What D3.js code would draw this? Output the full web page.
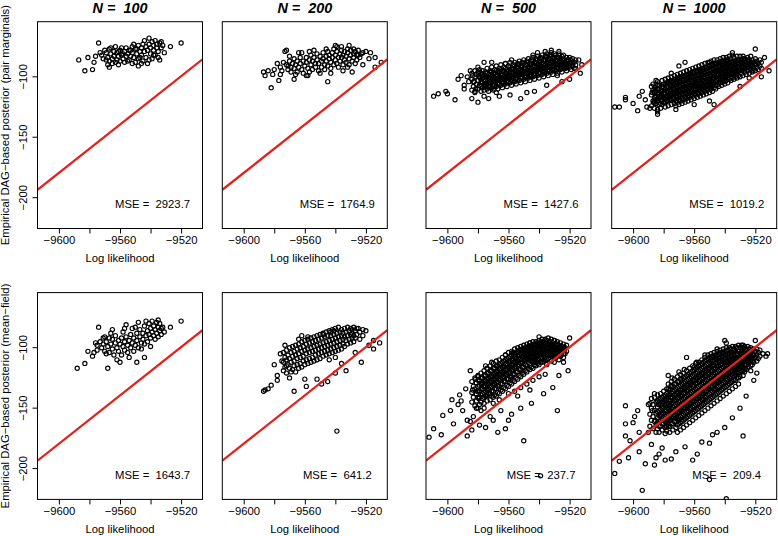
<!DOCTYPE html>
<html>
<head>
<meta charset="utf-8">
<script src="https://cdn.jsdelivr.net/npm/d3@7"></script>
<style>
  body { margin: 0; background: #fff; }
  text { font-family: "Liberation Sans", Arial, Helvetica, sans-serif; fill: #000; }
</style>
</head>
<body>
<div id="chart"></div>
<script>
// ---- data ----
const sampleSizes = [100, 200, 500, 1000];
const pairMse = [2923.7, 1764.9, 1427.6, 1019.2];
const meanFieldMse = [1643.7, 641.2, 237.7, 209.4];
const xTicks = [-9600, -9580, -9560, -9540, -9520];
const xTickLabels = [-9600, -9560, -9520];
const yTicks = [-100, -150, -200];
const rowTitles = ["Empirical DAG\u2212based posterior (pair marginals)",
                   "Empirical DAG\u2212based posterior (mean\u2212field)"];
const refOffset = 9420.5;   // red reference line: y = loglik + refOffset

// top row: pair marginals
const pairN100 = [
[-9587,-86],[-9583,-95],[-9581,-84],[-9578,-94],[-9577,-88],[-9576,-83],[-9574,-72],[-9572,-82],[-9571,-85],[-9570,-78],[-9569,-80],[-9568,-84],[-9568,-90],[-9567,-87],[-9566,-81],[-9566,-76],[-9565,-85],[-9564,-79],[-9564,-83],[-9563,-75],[-9563,-88],[-9562,-80],[-9562,-86],[-9561,-83],[-9560,-78],[-9560,-87],[-9559,-82],[-9559,-76],[-9558,-85],[-9557,-79],[-9557,-88],[-9556,-83],[-9556,-76],[-9555,-81],[-9554,-78],[-9554,-86],[-9553,-83],[-9552,-75],[-9552,-80],[-9551,-84],[-9550,-77],[-9550,-88],[-9549,-81],[-9548,-91],[-9548,-74],[-9548,-85],[-9547,-79],[-9546,-82],[-9546,-76],[-9545,-87],[-9545,-73],[-9544,-79],[-9543,-84],[-9543,-75],[-9542,-78],[-9542,-89],[-9541,-68],[-9541,-73],[-9540,-81],[-9540,-76],[-9539,-71],[-9539,-85],[-9538,-78],[-9538,-74],[-9537,-70],[-9537,-82],[-9536,-76],[-9536,-73],[-9535,-79],[-9534,-86],[-9534,-72],[-9533,-76],[-9532,-74],[-9531,-80],[-9527,-75],[-9520,-72],
[-9573,-80],[-9569,-86],[-9567,-77],[-9565,-89],[-9561,-79],[-9558,-81],[-9555,-87],[-9553,-78],[-9551,-73],[-9549,-77],[-9547,-84],[-9544,-70],[-9541,-86],[-9538,-82],[-9535,-84],[-9533,-71],[-9567,-92],[-9561,-90],[-9552,-89],[-9546,-89]
];
const pairN200 = [
[-9587,-96],[-9586,-99],[-9584,-95],[-9582,-109],[-9580,-94],[-9577,-103],[-9576,-98],[-9574,-88],[-9573,-79],[-9572,-78],[-9571,-91],[-9567,-102],[-9564,-80],[-9559,-99],[-9557,-79],[-9545,-104],[-9540,-74],[-9536,-75],[-9528,-77],[-9522,-80],[-9520,-79],[-9514,-84],[-9510,-88],[-9514,-92],[-9522,-90],[-9529,-96],[-9525,-82],[-9518,-85],[-9517,-80],[-9531,-74],
[-9572,-90],[-9571,-94],[-9570,-87],[-9569,-92],[-9569,-96],[-9568,-89],[-9567,-85],[-9567,-93],[-9566,-90],[-9565,-96],[-9565,-87],[-9564,-92],[-9563,-84],[-9563,-89],[-9562,-94],[-9561,-87],[-9561,-97],[-9560,-91],[-9559,-84],[-9559,-88],[-9558,-93],[-9557,-86],[-9557,-96],[-9556,-82],[-9556,-90],[-9555,-87],[-9555,-94],[-9554,-84],[-9553,-89],[-9553,-92],[-9552,-81],[-9552,-86],[-9551,-95],[-9551,-89],[-9550,-83],[-9549,-87],[-9549,-92],[-9548,-80],[-9548,-85],[-9547,-90],[-9547,-94],[-9546,-83],[-9546,-87],[-9545,-79],[-9545,-91],[-9544,-85],[-9544,-82],[-9543,-88],[-9543,-93],[-9542,-80],[-9542,-84],[-9541,-90],[-9541,-77],[-9540,-86],[-9540,-82],[-9539,-89],[-9539,-79],[-9538,-84],[-9538,-92],[-9537,-81],[-9537,-87],[-9536,-78],[-9536,-84],[-9535,-90],[-9535,-82],[-9534,-86],[-9534,-79],[-9533,-83],[-9533,-88],[-9532,-80],[-9532,-77],[-9531,-85],[-9531,-90],[-9530,-82],[-9530,-78],[-9529,-87],[-9528,-81],[-9528,-84],[-9527,-79],[-9526,-86],[-9526,-82],[-9525,-78],[-9524,-84],[-9523,-81],
[-9570,-83],[-9566,-98],[-9562,-80],[-9558,-99],[-9554,-78],[-9550,-97],[-9546,-77],[-9543,-97],[-9539,-75],[-9535,-95],[-9532,-92],[-9527,-89],[-9576,-92],[-9578,-89],[-9581,-98],[-9575,-95]
];
const pairN500 = [
[-9609,-116],[-9606,-114],[-9601,-112],[-9600,-114],[-9595,-119],[-9593,-102],[-9589,-110],[-9589,-107],[-9585,-95],[-9584,-118],[-9580,-121],[-9576,-88],[-9576,-116],[-9571,-88],[-9566,-116],[-9552,-118],[-9543,-112],[-9541,-80],[-9532,-78],[-9516,-93],[-9513,-97],[-9512,-90],[-9514,-86],[-9536,-79],[-9544,-82],[-9527,-79],[-9520,-102],[-9525,-104],[-9587,-100],[-9582,-113],[-9568,-113],[-9559,-115],[-9548,-113],[-9558,-86],[-9562,-89],[-9580,-92],[-9573,-118],[-9535,-107],[-9528,-99],[-9586,-104],[-9591,-99],
[-9584,-111],[-9584,-102],[-9584,-97],[-9583,-108],[-9583,-104],[-9582,-112],[-9582,-100],[-9582,-95],[-9581,-106],[-9581,-98],[-9580,-110],[-9580,-103],[-9580,-96],[-9579,-107],[-9579,-100],[-9579,-94],[-9578,-112],[-9578,-104],[-9578,-97],[-9577,-109],[-9577,-101],[-9577,-95],[-9576,-106],[-9576,-99],[-9576,-111],[-9575,-103],[-9575,-96],[-9575,-108],[-9574,-110],[-9574,-100],[-9574,-93],[-9573,-105],[-9573,-98],[-9573,-112],[-9572,-102],[-9572,-95],[-9572,-108],[-9571,-109],[-9571,-100],[-9571,-92],[-9570,-104],[-9570,-97],[-9570,-111],[-9569,-101],[-9569,-94],[-9569,-107],[-9568,-108],[-9568,-99],[-9568,-91],[-9567,-103],[-9567,-96],[-9567,-110],[-9566,-100],[-9566,-93],[-9566,-106],[-9565,-107],[-9565,-98],[-9565,-90],[-9564,-102],[-9564,-95],[-9564,-109],[-9563,-99],[-9563,-92],[-9563,-105],[-9562,-106],[-9562,-97],[-9562,-89],[-9561,-101],[-9561,-94],[-9561,-108],[-9560,-98],[-9560,-91],[-9560,-104],[-9559,-105],[-9559,-96],[-9559,-88],[-9558,-100],[-9558,-93],[-9558,-107],[-9557,-97],[-9557,-90],[-9557,-103],[-9556,-104],[-9556,-95],[-9556,-88],[-9555,-99],[-9555,-92],[-9555,-106],[-9554,-96],[-9554,-89],[-9554,-102],[-9553,-103],[-9553,-94],[-9553,-87],[-9552,-98],[-9552,-91],[-9552,-105],[-9551,-95],[-9551,-88],[-9551,-101],[-9550,-102],[-9550,-93],[-9550,-86],[-9549,-97],[-9549,-90],[-9549,-104],[-9548,-94],[-9548,-87],[-9548,-100],[-9547,-101],[-9547,-92],[-9547,-85],[-9546,-96],[-9546,-89],[-9546,-103],[-9545,-93],[-9545,-86],[-9545,-99],[-9544,-100],[-9544,-91],[-9544,-84],[-9543,-95],[-9543,-88],[-9543,-102],[-9542,-92],[-9542,-85],[-9542,-98],[-9541,-99],[-9541,-90],[-9541,-83],[-9540,-94],[-9540,-87],[-9540,-101],[-9539,-91],[-9539,-84],[-9539,-97],[-9538,-98],[-9538,-89],[-9538,-82],[-9537,-93],[-9537,-86],[-9537,-100],[-9536,-90],[-9536,-83],[-9536,-96],[-9535,-97],[-9535,-88],[-9535,-81],[-9534,-92],[-9534,-85],[-9534,-99],[-9533,-89],[-9533,-82],[-9533,-95],[-9532,-96],[-9532,-87],[-9532,-80],[-9531,-91],[-9531,-84],[-9531,-98],[-9530,-88],[-9530,-81],[-9530,-94],[-9529,-95],[-9529,-86],[-9529,-82],[-9528,-90],[-9528,-84],[-9528,-97],[-9527,-87],[-9527,-81],[-9527,-93],[-9526,-94],[-9526,-85],[-9526,-89],[-9525,-90],[-9525,-83],[-9525,-96],[-9524,-86],[-9524,-82],[-9524,-92],[-9523,-93],[-9523,-88],[-9522,-89],[-9522,-84],[-9522,-95],[-9521,-86],[-9521,-91],[-9520,-92],[-9520,-84],[-9520,-88],[-9519,-89],[-9519,-94],[-9518,-85],[-9518,-91],[-9517,-88],[-9517,-93],[-9516,-86],[-9516,-90],
[-9583.5,-99],[-9581.5,-110],[-9579.5,-97],[-9577.5,-105],[-9575.5,-99],[-9573.5,-101],[-9571.5,-96],[-9569.5,-110],[-9567.5,-99],[-9565.5,-103],[-9563.5,-96],[-9561.5,-104],[-9559.5,-99],[-9557.5,-94],[-9555.5,-101],[-9553.5,-98],[-9551.5,-92],[-9549.5,-100],[-9547.5,-96],[-9545.5,-90],[-9543.5,-98],[-9541.5,-94],[-9539.5,-88],[-9537.5,-96],[-9535.5,-92],[-9533.5,-86],[-9531.5,-94],[-9529.5,-89],[-9527.5,-84],[-9525.5,-92],[-9523.5,-86],[-9521.5,-90],[-9519.5,-86],[-9582.5,-104],[-9578.5,-101],[-9574.5,-106],[-9570.5,-102],[-9566.5,-95],[-9562.5,-100],[-9558.5,-104],[-9554.5,-93],[-9550.5,-97],[-9546.5,-99],[-9542.5,-89],[-9538.5,-93],[-9534.5,-95],[-9530.5,-85],[-9526.5,-87],[-9522.5,-93],[-9518.5,-88]
];
// the solid black centre of the N = 500 cloud
const pairN500Core = [
[-9578,-108],[-9578,-100],[-9577,-105],[-9577,-98],[-9576,-102],[-9576,-108],[-9575,-100],[-9575,-106],[-9574,-105],[-9574,-97],[-9573,-101],[-9573,-108],[-9572,-99],[-9572,-105],[-9571,-104],[-9571,-96],[-9570,-100],[-9570,-107],[-9569,-97],[-9569,-104],[-9568,-103],[-9568,-95],[-9567,-99],[-9567,-106],[-9566,-96],[-9566,-103],[-9565,-102],[-9565,-94],[-9564,-98],[-9564,-105],[-9563,-95],[-9563,-102],[-9562,-101],[-9562,-93],[-9561,-97],[-9561,-104],[-9560,-95],[-9560,-101],[-9559,-100],[-9559,-92],[-9558,-96],[-9558,-103],[-9557,-93],[-9557,-100],[-9556,-99],[-9556,-91],[-9555,-95],[-9555,-102],[-9554,-92],[-9554,-99],[-9553,-98],[-9553,-90],[-9552,-94],[-9552,-101],[-9551,-91],[-9551,-98],[-9550,-97],[-9550,-89],[-9549,-93],[-9549,-100],[-9548,-90],[-9548,-97],[-9547,-96],[-9547,-88],[-9546,-92],[-9546,-99],[-9545,-89],[-9545,-96],[-9544,-95],[-9544,-87],[-9543,-91],[-9543,-98],[-9542,-88],[-9542,-95],[-9541,-94],[-9541,-86],[-9540,-90],[-9540,-97],[-9539,-87],[-9539,-94],[-9538,-93],[-9538,-85],[-9537,-89],[-9537,-96],[-9536,-86],[-9536,-93],[-9535,-92],[-9535,-84],[-9534,-88],[-9534,-95],[-9533,-85],[-9533,-92],[-9532,-91],[-9532,-83],[-9531,-87],[-9531,-94],[-9530,-84],[-9530,-91],[-9529,-90],[-9528,-87],[-9528,-93],[-9527,-84],[-9527,-90],[-9526,-87],[-9526,-91],[-9525,-86],[-9525,-93],[-9524,-89],[-9523,-90],[-9522,-86],[-9522,-92]
];
const pairN1000 = [
[-9612,-125],[-9609,-125],[-9605,-117],[-9605,-119],[-9597,-128],[-9600,-122],[-9596,-116],[-9591,-125],[-9589,-126],[-9585,-103],[-9584,-129],[-9584,-131],[-9594,-112],[-9592,-119],[-9566,-88],[-9570,-91],[-9575,-97],[-9547,-123],[-9550,-120],[-9535,-80],[-9520,-77],[-9514,-84],[-9511,-95],[-9516,-100],[-9524,-101],[-9543,-89],[-9550,-88],[-9560,-123],[-9572,-127],[-9530,-108],
[-9588,-124],[-9588,-115],[-9588,-108],[-9587,-120],[-9587,-111],[-9587,-106],[-9586,-126],[-9586,-117],[-9586,-109],[-9585,-122],[-9585,-113],[-9585,-106],[-9584,-127],[-9584,-118],[-9584,-110],[-9584,-104],[-9583,-123],[-9583,-114],[-9583,-107],[-9582,-119],[-9582,-112],[-9582,-126],[-9581,-116],[-9581,-108],[-9581,-123],[-9581,-103],[-9580,-121],[-9580,-113],[-9580,-106],[-9579,-125],[-9579,-117],[-9579,-110],[-9579,-102],[-9578,-120],[-9578,-112],[-9578,-105],[-9577,-124],[-9577,-116],[-9577,-108],[-9577,-101],[-9576,-119],[-9576,-111],[-9576,-104],[-9575,-123],[-9575,-115],[-9575,-107],[-9575,-100],[-9574,-118],[-9574,-110],[-9574,-103],[-9573,-122],[-9573,-114],[-9573,-106],[-9573,-99],[-9572,-117],[-9572,-109],[-9572,-102],[-9572,-124],[-9571,-121],[-9571,-113],[-9571,-105],[-9571,-98],[-9570,-116],[-9570,-108],[-9570,-101],[-9570,-123],[-9569,-120],[-9569,-112],[-9569,-104],[-9569,-97],[-9568,-115],[-9568,-107],[-9568,-100],[-9568,-122],[-9567,-119],[-9567,-111],[-9567,-103],[-9567,-96],[-9566,-114],[-9566,-106],[-9566,-99],[-9566,-121],[-9565,-118],[-9565,-110],[-9565,-102],[-9565,-95],[-9564,-113],[-9564,-105],[-9564,-98],[-9564,-120],[-9563,-117],[-9563,-109],[-9563,-101],[-9563,-94],[-9562,-112],[-9562,-104],[-9562,-97],[-9562,-119],[-9561,-116],[-9561,-108],[-9561,-100],[-9561,-93],[-9560,-111],[-9560,-103],[-9560,-96],[-9560,-118],[-9559,-115],[-9559,-107],[-9559,-99],[-9559,-92],[-9558,-110],[-9558,-102],[-9558,-95],[-9558,-117],[-9557,-114],[-9557,-106],[-9557,-98],[-9557,-91],[-9556,-109],[-9556,-101],[-9556,-94],[-9556,-116],[-9555,-113],[-9555,-105],[-9555,-97],[-9555,-90],[-9554,-108],[-9554,-100],[-9554,-93],[-9554,-115],[-9553,-112],[-9553,-104],[-9553,-96],[-9553,-89],[-9552,-107],[-9552,-99],[-9552,-92],[-9552,-114],[-9551,-111],[-9551,-103],[-9551,-95],[-9551,-88],[-9550,-106],[-9550,-98],[-9550,-91],[-9550,-113],[-9549,-110],[-9549,-102],[-9549,-94],[-9549,-87],[-9548,-105],[-9548,-97],[-9548,-90],[-9548,-112],[-9547,-109],[-9547,-101],[-9547,-93],[-9547,-86],[-9546,-104],[-9546,-96],[-9546,-89],[-9546,-110],[-9545,-107],[-9545,-99],[-9545,-92],[-9545,-86],[-9544,-102],[-9544,-95],[-9544,-88],[-9544,-108],[-9543,-105],[-9543,-98],[-9543,-91],[-9543,-85],[-9542,-101],[-9542,-94],[-9542,-87],[-9542,-107],[-9541,-104],[-9541,-97],[-9541,-90],[-9541,-84],[-9540,-100],[-9540,-93],[-9540,-87],[-9540,-106],[-9539,-103],[-9539,-96],[-9539,-89],[-9539,-84],[-9538,-99],[-9538,-92],[-9538,-86],[-9538,-105],[-9537,-102],[-9537,-95],[-9537,-88],[-9537,-83],[-9536,-98],[-9536,-91],[-9536,-85],[-9536,-103],[-9535,-101],[-9535,-94],[-9535,-87],[-9535,-82],[-9534,-97],[-9534,-90],[-9534,-84],[-9534,-102],[-9533,-100],[-9533,-93],[-9533,-87],[-9532,-96],[-9532,-89],[-9532,-83],[-9532,-101],[-9531,-99],[-9531,-92],[-9531,-86],[-9530,-95],[-9530,-89],[-9530,-83],[-9530,-100],[-9529,-97],[-9529,-91],[-9529,-86],[-9528,-94],[-9528,-88],[-9528,-83],[-9528,-99],[-9527,-96],[-9527,-90],[-9527,-85],[-9526,-93],[-9526,-87],[-9526,-98],[-9525,-95],[-9525,-89],[-9525,-84],[-9524,-92],[-9524,-86],[-9524,-97],[-9523,-94],[-9523,-88],[-9523,-83],[-9522,-91],[-9522,-86],[-9522,-96],[-9521,-93],[-9521,-88],[-9520,-90],[-9520,-85],[-9520,-95],[-9519,-92],[-9519,-87],[-9518,-89],[-9518,-94],[-9517,-91],[-9517,-86],[-9516,-93],[-9516,-88],
[-9587.5,-113],[-9585.5,-119],[-9583.5,-110],[-9581.5,-120],[-9579.5,-113],[-9577.5,-105],[-9575.5,-119],[-9573.5,-110],[-9571.5,-116],[-9569.5,-101],[-9567.5,-114],[-9565.5,-106],[-9563.5,-98],[-9561.5,-112],[-9559.5,-103],[-9557.5,-109],[-9555.5,-95],[-9553.5,-108],[-9551.5,-99],[-9549.5,-106],[-9547.5,-97],[-9545.5,-103],[-9543.5,-94],[-9541.5,-101],[-9539.5,-92],[-9537.5,-99],[-9535.5,-91],[-9533.5,-96],[-9531.5,-88],[-9529.5,-94],[-9527.5,-88],[-9525.5,-92],[-9523.5,-90],[-9521.5,-95],[-9519.5,-89],[-9586.5,-121],[-9582.5,-116],[-9578.5,-116],[-9574.5,-114],[-9570.5,-111],[-9566.5,-110],[-9562.5,-108],[-9558.5,-105],[-9554.5,-103],[-9550.5,-102],[-9546.5,-99],[-9542.5,-97],[-9538.5,-95],[-9534.5,-93],[-9530.5,-92],[-9526.5,-90],[-9522.5,-88],[-9580.5,-108],[-9572.5,-105],[-9564.5,-102],[-9556.5,-111],[-9548.5,-108],[-9540.5,-103],[-9532.5,-98]
];
const pairN1000Core = [
[-9586,-121],[-9586,-113],[-9585,-117],[-9585,-110],[-9584,-114],[-9584,-107],[-9583,-118],[-9583,-110],[-9582,-122],[-9582,-116],[-9581,-119],[-9581,-112],[-9580,-117],[-9580,-109],[-9579,-121],[-9579,-113],[-9579,-106],[-9578,-116],[-9578,-108],[-9577,-120],[-9577,-112],[-9577,-104],[-9576,-115],[-9576,-107],[-9575,-119],[-9575,-111],[-9575,-103],[-9574,-114],[-9574,-106],[-9573,-118],[-9573,-110],[-9573,-102],[-9572,-120],[-9572,-113],[-9572,-105],[-9571,-117],[-9571,-109],[-9571,-101],[-9570,-119],[-9570,-112],[-9570,-104],[-9569,-116],[-9569,-108],[-9569,-100],[-9568,-118],[-9568,-111],[-9568,-103],[-9567,-115],[-9567,-107],[-9567,-99],[-9566,-117],[-9566,-110],[-9566,-102],[-9565,-114],[-9565,-106],[-9565,-98],[-9564,-116],[-9564,-109],[-9564,-101],[-9563,-113],[-9563,-105],[-9563,-97],[-9562,-115],[-9562,-108],[-9562,-100],[-9561,-112],[-9561,-104],[-9561,-96],[-9560,-114],[-9560,-107],[-9560,-99],[-9559,-111],[-9559,-103],[-9559,-95],[-9558,-113],[-9558,-106],[-9558,-98],[-9557,-110],[-9557,-102],[-9557,-94],[-9556,-112],[-9556,-105],[-9556,-97],[-9555,-109],[-9555,-101],[-9555,-93],[-9554,-111],[-9554,-104],[-9554,-96],[-9553,-108],[-9553,-100],[-9553,-92],[-9552,-110],[-9552,-103],[-9552,-95],[-9551,-107],[-9551,-99],[-9551,-91],[-9550,-109],[-9550,-102],[-9550,-94],[-9549,-106],[-9549,-98],[-9549,-90],[-9548,-108],[-9548,-101],[-9548,-93],[-9547,-105],[-9547,-97],[-9547,-89],[-9546,-107],[-9546,-100],[-9546,-92],[-9545,-103],[-9545,-95],[-9545,-89],[-9544,-105],[-9544,-98],[-9544,-91],[-9543,-101],[-9543,-94],[-9543,-88],[-9542,-104],[-9542,-97],[-9542,-90],[-9541,-100],[-9541,-93],[-9541,-87],[-9540,-103],[-9540,-96],[-9540,-90],[-9539,-99],[-9539,-92],[-9539,-86],[-9538,-102],[-9538,-95],[-9538,-89],[-9537,-98],[-9537,-91],[-9536,-100],[-9536,-94],[-9536,-88],[-9535,-97],[-9535,-90],[-9534,-99],[-9534,-93],[-9534,-87],[-9533,-96],[-9533,-90],[-9532,-98],[-9532,-92],[-9532,-86],[-9531,-95],[-9531,-89],[-9530,-92],[-9530,-86],[-9529,-94],[-9529,-88],[-9528,-91],[-9528,-85],[-9527,-93],[-9527,-87],[-9526,-90],[-9525,-92],[-9525,-86],[-9524,-89],[-9523,-91],[-9522,-88]
];

// bottom row: mean-field
const meanFieldN100 = [
[-9588,-117],[-9583,-113],[-9581,-103],[-9578,-107],[-9577,-104],[-9576,-96],[-9575,-98],[-9574,-83],[-9571,-92],[-9569,-105],[-9568,-117],[-9565,-85],[-9560,-112],[-9557,-84],[-9556,-81],[-9550,-83],[-9549,-112],[-9544,-108],[-9543,-78],[-9540,-99],[-9535,-77],[-9532,-83],[-9527,-83],[-9520,-78],
[-9572,-100],[-9571,-97],[-9570,-103],[-9569,-95],[-9568,-99],[-9567,-92],[-9567,-104],[-9566,-97],[-9565,-101],[-9565,-93],[-9564,-106],[-9563,-96],[-9563,-90],[-9562,-100],[-9561,-94],[-9561,-103],[-9560,-97],[-9559,-92],[-9559,-106],[-9558,-99],[-9557,-95],[-9557,-102],[-9556,-91],[-9555,-98],[-9555,-104],[-9554,-94],[-9553,-100],[-9553,-89],[-9552,-96],[-9551,-92],[-9551,-103],[-9550,-98],[-9549,-94],[-9549,-88],[-9548,-100],[-9547,-91],[-9547,-85],[-9546,-96],[-9545,-88],[-9545,-93],[-9544,-82],[-9543,-90],[-9542,-86],[-9542,-95],[-9541,-80],[-9541,-89],[-9540,-84],[-9540,-92],[-9539,-78],[-9539,-87],[-9538,-82],[-9538,-90],[-9537,-85],[-9537,-93],[-9536,-79],[-9536,-88],[-9535,-83],[-9535,-91],[-9534,-86],[-9534,-80],[-9533,-89],[-9533,-84],[-9531,-87],[-9573,-95],[-9570,-91],[-9566,-88],[-9558,-87],[-9554,-108],[-9552,-84],[-9546,-101],[-9544,-97],[-9562,-110],[-9575,-102],[-9548,-79]
];
const meanFieldN200 = [
[-9587,-136],[-9586,-135],[-9584,-134],[-9582,-131],[-9580,-114],[-9578,-123],[-9578,-127],[-9576,-105],[-9573,-98],[-9572,-115],[-9567,-136],[-9564,-93],[-9559,-132],[-9558,-91],[-9549,-130],[-9545,-128],[-9539,-169],[-9533,-119],[-9529,-85],[-9523,-112],[-9520,-86],[-9515,-101],[-9511,-96],[-9515,-94],[-9525,-84],[-9575,-111],[-9570,-125],[-9560,-126],[-9552,-126],[-9540,-121],[-9536,-113],[-9527,-104],[-9518,-98],[-9569,-120],[-9562,-90],[-9548,-89],[-9541,-86],[-9543,-87],
[-9574,-104],[-9574,-112],[-9574,-119],[-9573,-108],[-9573,-116],[-9572,-102],[-9572,-110],[-9572,-121],[-9571,-106],[-9571,-114],[-9570,-100],[-9570,-109],[-9570,-117],[-9569,-104],[-9569,-112],[-9568,-99],[-9568,-107],[-9568,-118],[-9567,-103],[-9567,-111],[-9567,-115],[-9566,-98],[-9566,-106],[-9566,-120],[-9565,-101],[-9565,-109],[-9565,-114],[-9564,-97],[-9564,-105],[-9564,-117],[-9563,-100],[-9563,-108],[-9563,-113],[-9562,-95],[-9562,-103],[-9562,-116],[-9561,-99],[-9561,-107],[-9561,-111],[-9560,-94],[-9560,-102],[-9560,-114],[-9559,-97],[-9559,-105],[-9559,-110],[-9558,-93],[-9558,-101],[-9558,-113],[-9557,-96],[-9557,-104],[-9557,-109],[-9556,-92],[-9556,-100],[-9556,-112],[-9555,-95],[-9555,-103],[-9555,-108],[-9554,-91],[-9554,-99],[-9554,-111],[-9553,-94],[-9553,-102],[-9553,-106],[-9552,-90],[-9552,-98],[-9552,-110],[-9551,-93],[-9551,-101],[-9551,-105],[-9550,-89],[-9550,-97],[-9550,-109],[-9549,-92],[-9549,-100],[-9549,-104],[-9548,-88],[-9548,-96],[-9548,-107],[-9547,-91],[-9547,-99],[-9547,-103],[-9546,-87],[-9546,-95],[-9546,-106],[-9545,-90],[-9545,-98],[-9545,-102],[-9544,-86],[-9544,-94],[-9544,-105],[-9544,-110],[-9543,-90],[-9543,-97],[-9543,-101],[-9542,-85],[-9542,-93],[-9542,-104],[-9541,-89],[-9541,-96],[-9541,-100],[-9540,-84],[-9540,-92],[-9540,-103],[-9540,-108],[-9539,-88],[-9539,-95],[-9539,-99],[-9538,-83],[-9538,-91],[-9538,-102],[-9537,-87],[-9537,-94],[-9537,-98],[-9536,-85],[-9536,-90],[-9536,-101],[-9535,-88],[-9535,-93],[-9535,-97],[-9534,-84],[-9534,-91],[-9534,-99],[-9533,-87],[-9533,-94],[-9532,-83],[-9532,-90],[-9532,-97],[-9531,-86],[-9531,-93],[-9530,-84],[-9530,-89],[-9530,-96],[-9529,-88],[-9529,-92],[-9528,-83],[-9528,-90],[-9528,-95],[-9527,-86],[-9527,-92],[-9526,-84],[-9526,-89],[-9524,-87],[-9524,-93],[-9522,-85],[-9522,-90]
];
const meanFieldN500 = [
[-9612,-174],[-9609,-167],[-9604,-172],[-9603,-156],[-9597,-143],[-9596,-163],[-9591,-144],[-9587,-160],[-9587,-173],[-9585,-119],[-9585,-161],[-9579,-164],[-9575,-166],[-9571,-112],[-9567,-170],[-9562,-167],[-9550,-177],[-9557,-104],[-9540,-91],[-9528,-152],[-9520,-92],[-9521,-119],[-9524,-112],[-9539,-206],[-9593,-147],[-9590,-152],[-9583,-157],[-9581,-150],[-9578,-152],[-9572,-157],[-9565,-152],[-9558,-155],[-9552,-150],[-9545,-146],[-9537,-138],[-9531,-133],[-9527,-123],[-9524,-100],[-9530,-94],[-9546,-96],[-9562,-106],[-9575,-115],[-9580,-124],[-9588,-134],[-9592,-139],[-9598,-152],[-9584,-168],[-9570,-160],[-9560,-160],[-9533,-95],
[-9584,-128],[-9584,-137],[-9584,-145],[-9583,-132],[-9583,-141],[-9582,-125],[-9582,-134],[-9582,-148],[-9581,-129],[-9581,-138],[-9581,-144],[-9580,-123],[-9580,-132],[-9580,-141],[-9579,-127],[-9579,-136],[-9579,-147],[-9578,-121],[-9578,-130],[-9578,-139],[-9578,-145],[-9577,-125],[-9577,-134],[-9577,-142],[-9576,-119],[-9576,-128],[-9576,-137],[-9576,-146],[-9575,-123],[-9575,-132],[-9575,-140],[-9574,-117],[-9574,-126],[-9574,-135],[-9574,-144],[-9573,-121],[-9573,-130],[-9573,-138],[-9572,-115],[-9572,-124],[-9572,-133],[-9572,-143],[-9571,-119],[-9571,-128],[-9571,-136],[-9571,-140],[-9570,-113],[-9570,-122],[-9570,-131],[-9570,-141],[-9569,-117],[-9569,-126],[-9569,-134],[-9569,-139],[-9568,-111],[-9568,-120],[-9568,-129],[-9568,-140],[-9567,-115],[-9567,-124],[-9567,-132],[-9567,-137],[-9566,-110],[-9566,-118],[-9566,-127],[-9566,-138],[-9565,-113],[-9565,-122],[-9565,-130],[-9565,-135],[-9564,-108],[-9564,-116],[-9564,-125],[-9564,-136],[-9563,-111],[-9563,-120],[-9563,-128],[-9563,-133],[-9562,-106],[-9562,-114],[-9562,-123],[-9562,-134],[-9561,-109],[-9561,-118],[-9561,-126],[-9561,-131],[-9560,-104],[-9560,-112],[-9560,-121],[-9560,-132],[-9559,-107],[-9559,-116],[-9559,-124],[-9559,-129],[-9558,-103],[-9558,-110],[-9558,-119],[-9558,-130],[-9557,-105],[-9557,-114],[-9557,-122],[-9557,-127],[-9556,-101],[-9556,-108],[-9556,-117],[-9556,-128],[-9555,-104],[-9555,-112],[-9555,-120],[-9555,-125],[-9554,-100],[-9554,-107],[-9554,-115],[-9554,-126],[-9553,-102],[-9553,-110],[-9553,-118],[-9553,-123],[-9552,-99],[-9552,-105],[-9552,-113],[-9552,-124],[-9551,-101],[-9551,-108],[-9551,-116],[-9551,-121],[-9550,-98],[-9550,-104],[-9550,-111],[-9550,-122],[-9549,-100],[-9549,-107],[-9549,-114],[-9549,-119],[-9548,-97],[-9548,-103],[-9548,-110],[-9548,-120],[-9547,-99],[-9547,-106],[-9547,-112],[-9547,-117],[-9546,-96],[-9546,-102],[-9546,-109],[-9546,-118],[-9545,-98],[-9545,-105],[-9545,-111],[-9545,-116],[-9544,-95],[-9544,-101],[-9544,-108],[-9544,-117],[-9543,-97],[-9543,-104],[-9543,-110],[-9543,-114],[-9542,-95],[-9542,-100],[-9542,-107],[-9542,-115],[-9541,-96],[-9541,-103],[-9541,-109],[-9541,-113],[-9540,-94],[-9540,-99],[-9540,-106],[-9540,-114],[-9539,-96],[-9539,-102],[-9539,-108],[-9539,-112],[-9538,-93],[-9538,-98],[-9538,-105],[-9538,-112],[-9537,-95],[-9537,-101],[-9537,-107],[-9537,-111],[-9536,-93],[-9536,-97],[-9536,-104],[-9536,-110],[-9535,-94],[-9535,-100],[-9535,-106],[-9535,-114],[-9534,-92],[-9534,-97],[-9534,-103],[-9534,-109],[-9533,-95],[-9533,-100],[-9533,-106],[-9532,-93],[-9532,-98],[-9532,-104],[-9532,-111],[-9531,-96],[-9531,-101],[-9531,-107],[-9530,-94],[-9530,-99],[-9530,-105],[-9530,-112],[-9529,-97],[-9529,-102],[-9529,-108],[-9528,-95],[-9528,-100],[-9528,-106],[-9527,-98],[-9527,-103],[-9527,-110],[-9526,-96],[-9526,-101],[-9526,-107],[-9525,-99],[-9525,-104],[-9524,-97],[-9524,-102],[-9524,-108],[-9523,-100],[-9523,-105],[-9522,-98],[-9522,-103],
[-9560,-138],[-9556,-136],[-9552,-133],[-9548,-130],[-9544,-127],[-9540,-124],[-9536,-122],[-9566,-143],[-9570,-146],[-9576,-150],[-9580,-150],[-9554,-140],[-9546,-135],
[-9583.5,-135],[-9581.5,-126],[-9579.5,-142],[-9577.5,-130],[-9575.5,-127],[-9573.5,-134],[-9571.5,-124],[-9569.5,-130],[-9567.5,-120],[-9565.5,-126],[-9563.5,-116],[-9561.5,-122],[-9559.5,-112],[-9557.5,-118],[-9555.5,-108],[-9553.5,-114],[-9551.5,-105],[-9549.5,-111],[-9547.5,-102],[-9545.5,-108],[-9543.5,-100],[-9541.5,-106],[-9539.5,-99],[-9537.5,-104],[-9535.5,-97],[-9533.5,-103],[-9531.5,-99],[-9529.5,-105],[-9527.5,-101],[-9525.5,-106],[-9523.5,-102],[-9580.5,-136],[-9576.5,-132],[-9572.5,-129],[-9568.5,-125],[-9564.5,-121],[-9560.5,-117],[-9556.5,-113],[-9552.5,-109],[-9548.5,-106],[-9544.5,-104],[-9540.5,-102],[-9536.5,-101],[-9532.5,-101],[-9528.5,-102],[-9574.5,-140],[-9566.5,-134],[-9558.5,-126],[-9550.5,-119],[-9542.5,-112]
];
const meanFieldN500Core = [
[-9580,-127],[-9580,-136],[-9579,-131],[-9579,-141],[-9578,-125],[-9578,-134],[-9577,-129],[-9577,-138],[-9576,-123],[-9576,-132],[-9576,-141],[-9575,-127],[-9575,-136],[-9574,-121],[-9574,-130],[-9574,-139],[-9573,-125],[-9573,-134],[-9572,-119],[-9572,-128],[-9572,-138],[-9571,-123],[-9571,-132],[-9570,-117],[-9570,-126],[-9570,-136],[-9569,-121],[-9569,-130],[-9568,-115],[-9568,-124],[-9568,-134],[-9567,-119],[-9567,-128],[-9566,-114],[-9566,-122],[-9566,-132],[-9565,-117],[-9565,-126],[-9564,-112],[-9564,-120],[-9564,-130],[-9563,-115],[-9563,-124],[-9562,-110],[-9562,-118],[-9562,-128],[-9561,-113],[-9561,-122],[-9560,-108],[-9560,-116],[-9560,-126],[-9559,-111],[-9559,-120],[-9558,-106],[-9558,-114],[-9558,-124],[-9557,-109],[-9557,-118],[-9556,-104],[-9556,-112],[-9556,-122],[-9555,-108],[-9555,-116],[-9554,-103],[-9554,-111],[-9554,-120],[-9553,-106],[-9553,-114],[-9552,-102],[-9552,-109],[-9552,-118],[-9551,-104],[-9551,-112],[-9550,-101],[-9550,-107],[-9550,-116],[-9549,-103],[-9549,-110],[-9548,-100],[-9548,-106],[-9548,-115],[-9547,-102],[-9547,-109],[-9546,-99],[-9546,-105],[-9546,-113],[-9545,-101],[-9545,-108],[-9544,-98],[-9544,-104],[-9544,-112],[-9543,-100],[-9543,-107],[-9542,-97],[-9542,-103],[-9542,-111],[-9541,-99],[-9541,-106],[-9540,-96],[-9540,-102],[-9540,-110],[-9539,-99],[-9539,-105],[-9538,-95],[-9538,-101],[-9538,-108],[-9537,-98],[-9537,-104],[-9536,-100],[-9536,-107],[-9535,-97],[-9535,-103],[-9535,-110],[-9534,-100],[-9534,-106],[-9533,-97],[-9533,-103],[-9532,-101],[-9532,-107],[-9531,-98],[-9531,-104],[-9530,-102],[-9530,-108],[-9529,-100],[-9529,-105],[-9528,-97],[-9528,-103],[-9527,-100],[-9527,-106],[-9526,-104],[-9525,-101],[-9524,-105]
];
const meanFieldN1000 = [
[-9612,-204],[-9605,-148],[-9605,-163],[-9605,-173],[-9602,-177],[-9609,-194],[-9603,-191],[-9599,-157],[-9596,-186],[-9594,-218],[-9592,-196],[-9586,-197],[-9585,-191],[-9583,-188],[-9579,-193],[-9575,-192],[-9577,-123],[-9570,-120],[-9565,-108],[-9561,-193],[-9558,-188],[-9550,-209],[-9550,-179],[-9545,-170],[-9539,-225],[-9528,-173],[-9539,-96],[-9540,-94],[-9534,-102],[-9520,-94],[-9515,-105],[-9513,-107],[-9512,-105],[-9521,-127],[-9519,-121],[-9586,-138],[-9597,-152],[-9600,-162],[-9590,-147],[-9588,-180],[-9581,-183],[-9572,-186],[-9566,-182],[-9555,-178],[-9548,-172],[-9540,-166],[-9535,-158],[-9530,-150],[-9526,-140],[-9590,-170],[-9596,-170],[-9583,-145],[-9575,-131],[-9560,-116],[-9553,-106],[-9545,-101],[-9528,-98],[-9524,-104],
[-9589,-146],[-9589,-155],[-9589,-165],[-9588,-150],[-9588,-160],[-9588,-142],[-9587,-147],[-9587,-157],[-9587,-167],[-9586,-152],[-9586,-161],[-9586,-141],[-9585,-145],[-9585,-154],[-9585,-164],[-9585,-170],[-9584,-149],[-9584,-158],[-9584,-139],[-9584,-167],[-9583,-143],[-9583,-152],[-9583,-161],[-9583,-170],[-9582,-147],[-9582,-156],[-9582,-138],[-9582,-165],[-9581,-141],[-9581,-150],[-9581,-159],[-9581,-168],[-9580,-145],[-9580,-154],[-9580,-136],[-9580,-163],[-9579,-139],[-9579,-148],[-9579,-157],[-9579,-166],[-9579,-171],[-9578,-134],[-9578,-143],[-9578,-152],[-9578,-161],[-9578,-169],[-9577,-130],[-9577,-139],[-9577,-147],[-9577,-156],[-9577,-165],[-9576,-135],[-9576,-144],[-9576,-152],[-9576,-160],[-9576,-170],[-9575,-128],[-9575,-137],[-9575,-146],[-9575,-154],[-9575,-163],[-9574,-132],[-9574,-141],[-9574,-149],[-9574,-158],[-9574,-168],[-9573,-126],[-9573,-135],[-9573,-144],[-9573,-152],[-9573,-161],[-9572,-130],[-9572,-139],[-9572,-147],[-9572,-156],[-9572,-166],[-9571,-124],[-9571,-133],[-9571,-142],[-9571,-150],[-9571,-159],[-9571,-170],[-9570,-128],[-9570,-137],[-9570,-145],[-9570,-154],[-9570,-163],[-9569,-122],[-9569,-131],[-9569,-140],[-9569,-148],[-9569,-157],[-9569,-168],[-9568,-126],[-9568,-135],[-9568,-143],[-9568,-152],[-9568,-161],[-9567,-121],[-9567,-129],[-9567,-138],[-9567,-146],[-9567,-155],[-9567,-166],[-9566,-124],[-9566,-133],[-9566,-141],[-9566,-150],[-9566,-159],[-9565,-119],[-9565,-127],[-9565,-136],[-9565,-144],[-9565,-153],[-9565,-164],[-9564,-122],[-9564,-131],[-9564,-139],[-9564,-148],[-9564,-157],[-9563,-117],[-9563,-125],[-9563,-134],[-9563,-142],[-9563,-151],[-9563,-162],[-9562,-120],[-9562,-129],[-9562,-137],[-9562,-146],[-9562,-155],[-9561,-115],[-9561,-123],[-9561,-132],[-9561,-140],[-9561,-149],[-9561,-160],[-9560,-118],[-9560,-127],[-9560,-135],[-9560,-144],[-9560,-153],[-9559,-113],[-9559,-121],[-9559,-130],[-9559,-138],[-9559,-147],[-9559,-158],[-9558,-116],[-9558,-125],[-9558,-133],[-9558,-142],[-9558,-151],[-9557,-112],[-9557,-119],[-9557,-128],[-9557,-136],[-9557,-145],[-9557,-156],[-9556,-114],[-9556,-123],[-9556,-131],[-9556,-140],[-9556,-149],[-9555,-110],[-9555,-117],[-9555,-126],[-9555,-134],[-9555,-143],[-9555,-154],[-9554,-112],[-9554,-121],[-9554,-129],[-9554,-138],[-9554,-147],[-9553,-108],[-9553,-115],[-9553,-124],[-9553,-132],[-9553,-141],[-9553,-152],[-9552,-110],[-9552,-119],[-9552,-127],[-9552,-136],[-9552,-145],[-9551,-106],[-9551,-113],[-9551,-122],[-9551,-130],[-9551,-139],[-9551,-150],[-9550,-108],[-9550,-117],[-9550,-125],[-9550,-134],[-9550,-143],[-9549,-105],[-9549,-111],[-9549,-120],[-9549,-128],[-9549,-137],[-9549,-148],[-9548,-107],[-9548,-115],[-9548,-123],[-9548,-132],[-9548,-141],[-9547,-104],[-9547,-110],[-9547,-118],[-9547,-126],[-9547,-135],[-9547,-146],[-9546,-106],[-9546,-113],[-9546,-121],[-9546,-130],[-9546,-139],[-9545,-103],[-9545,-109],[-9545,-116],[-9545,-124],[-9545,-133],[-9545,-144],[-9544,-105],[-9544,-111],[-9544,-119],[-9544,-128],[-9544,-137],[-9543,-102],[-9543,-108],[-9543,-114],[-9543,-122],[-9543,-131],[-9543,-142],[-9542,-104],[-9542,-110],[-9542,-117],[-9542,-126],[-9542,-135],[-9541,-101],[-9541,-107],[-9541,-112],[-9541,-120],[-9541,-129],[-9541,-140],[-9540,-103],[-9540,-109],[-9540,-115],[-9540,-124],[-9540,-133],[-9539,-100],[-9539,-106],[-9539,-111],[-9539,-118],[-9539,-127],[-9539,-138],[-9538,-102],[-9538,-108],[-9538,-114],[-9538,-122],[-9538,-131],[-9537,-100],[-9537,-105],[-9537,-110],[-9537,-117],[-9537,-125],[-9537,-136],[-9536,-101],[-9536,-107],[-9536,-113],[-9536,-120],[-9536,-129],[-9535,-99],[-9535,-104],[-9535,-109],[-9535,-116],[-9535,-123],[-9535,-134],[-9534,-101],[-9534,-106],[-9534,-112],[-9534,-119],[-9534,-127],[-9533,-99],[-9533,-103],[-9533,-108],[-9533,-115],[-9533,-122],[-9533,-132],[-9532,-100],[-9532,-105],[-9532,-111],[-9532,-118],[-9532,-125],[-9531,-98],[-9531,-103],[-9531,-108],[-9531,-114],[-9531,-121],[-9531,-130],[-9530,-100],[-9530,-105],[-9530,-110],[-9530,-117],[-9530,-124],[-9529,-98],[-9529,-102],[-9529,-107],[-9529,-113],[-9529,-120],[-9528,-100],[-9528,-104],[-9528,-109],[-9528,-116],[-9528,-123],[-9527,-99],[-9527,-103],[-9527,-108],[-9527,-114],[-9527,-120],[-9526,-101],[-9526,-106],[-9526,-111],[-9526,-118],[-9525,-99],[-9525,-104],[-9525,-109],[-9525,-116],[-9524,-101],[-9524,-106],[-9524,-112],[-9523,-100],[-9523,-105],[-9523,-111],[-9523,-119],[-9522,-102],[-9522,-108],[-9522,-114],[-9521,-101],[-9521,-106],[-9521,-112],[-9520,-103],[-9520,-108],[-9519,-101],[-9519,-106],[-9519,-111],[-9518,-104],[-9518,-109],[-9517,-102],[-9517,-107],
[-9587.5,-152],[-9585.5,-160],[-9583.5,-147],[-9581.5,-155],[-9579.5,-144],[-9577.5,-160],[-9575.5,-141],[-9573.5,-157],[-9571.5,-138],[-9569.5,-153],[-9567.5,-134],[-9565.5,-149],[-9563.5,-130],[-9561.5,-145],[-9559.5,-126],[-9557.5,-141],[-9555.5,-122],[-9553.5,-137],[-9551.5,-118],[-9549.5,-133],[-9547.5,-114],[-9545.5,-129],[-9543.5,-111],[-9541.5,-125],[-9539.5,-108],[-9537.5,-121],[-9535.5,-106],[-9533.5,-118],[-9531.5,-105],[-9529.5,-116],[-9527.5,-105],[-9525.5,-112],[-9523.5,-108],[-9521.5,-109],[-9584.5,-163],[-9580.5,-150],[-9576.5,-148],[-9572.5,-144],[-9568.5,-140],[-9564.5,-136],[-9560.5,-132],[-9556.5,-127],[-9552.5,-123],[-9548.5,-119],[-9544.5,-115],[-9540.5,-112],[-9536.5,-110],[-9532.5,-108],[-9528.5,-111],[-9578.5,-165],[-9570.5,-160],[-9562.5,-150],[-9554.5,-143],[-9546.5,-134],[-9538.5,-126],[-9574.5,-125],[-9566.5,-118],[-9558.5,-112],[-9550.5,-110]
];
const meanFieldN1000Core = [
[-9584,-144],[-9584,-153],[-9584,-162],[-9583,-147],[-9583,-156],[-9583,-165],[-9582,-142],[-9582,-151],[-9582,-160],[-9581,-145],[-9581,-154],[-9581,-163],[-9580,-140],[-9580,-149],[-9580,-158],[-9579,-143],[-9579,-152],[-9579,-161],[-9578,-138],[-9578,-147],[-9578,-156],[-9578,-165],[-9577,-134],[-9577,-143],[-9577,-151],[-9577,-160],[-9576,-139],[-9576,-148],[-9576,-156],[-9576,-165],[-9575,-132],[-9575,-141],[-9575,-150],[-9575,-158],[-9574,-136],[-9574,-145],[-9574,-153],[-9574,-163],[-9573,-130],[-9573,-139],[-9573,-148],[-9573,-156],[-9572,-134],[-9572,-143],[-9572,-151],[-9572,-161],[-9571,-128],[-9571,-137],[-9571,-146],[-9571,-154],[-9571,-164],[-9570,-132],[-9570,-141],[-9570,-149],[-9570,-158],[-9569,-126],[-9569,-135],[-9569,-144],[-9569,-152],[-9569,-162],[-9568,-130],[-9568,-139],[-9568,-147],[-9568,-156],[-9567,-125],[-9567,-133],[-9567,-142],[-9567,-150],[-9567,-160],[-9566,-128],[-9566,-137],[-9566,-145],[-9566,-154],[-9565,-123],[-9565,-131],[-9565,-140],[-9565,-148],[-9565,-158],[-9564,-126],[-9564,-135],[-9564,-143],[-9564,-152],[-9563,-121],[-9563,-129],[-9563,-138],[-9563,-146],[-9563,-156],[-9562,-124],[-9562,-133],[-9562,-141],[-9562,-150],[-9561,-119],[-9561,-127],[-9561,-136],[-9561,-144],[-9561,-154],[-9560,-122],[-9560,-131],[-9560,-139],[-9560,-148],[-9559,-117],[-9559,-125],[-9559,-134],[-9559,-142],[-9559,-152],[-9558,-120],[-9558,-129],[-9558,-137],[-9558,-146],[-9557,-115],[-9557,-123],[-9557,-132],[-9557,-140],[-9557,-150],[-9556,-118],[-9556,-127],[-9556,-135],[-9556,-144],[-9555,-113],[-9555,-121],[-9555,-130],[-9555,-138],[-9555,-148],[-9554,-116],[-9554,-125],[-9554,-133],[-9554,-142],[-9553,-111],[-9553,-119],[-9553,-128],[-9553,-136],[-9553,-146],[-9552,-114],[-9552,-123],[-9552,-131],[-9552,-140],[-9551,-109],[-9551,-117],[-9551,-126],[-9551,-134],[-9551,-144],[-9550,-112],[-9550,-121],[-9550,-129],[-9550,-138],[-9549,-108],[-9549,-115],[-9549,-124],[-9549,-132],[-9549,-142],[-9548,-111],[-9548,-119],[-9548,-127],[-9548,-136],[-9547,-107],[-9547,-114],[-9547,-122],[-9547,-130],[-9547,-140],[-9546,-109],[-9546,-117],[-9546,-125],[-9546,-134],[-9545,-106],[-9545,-112],[-9545,-120],[-9545,-128],[-9545,-138],[-9544,-108],[-9544,-115],[-9544,-123],[-9544,-132],[-9543,-105],[-9543,-111],[-9543,-118],[-9543,-126],[-9543,-136],[-9542,-107],[-9542,-113],[-9542,-121],[-9542,-130],[-9541,-104],[-9541,-116],[-9541,-124],[-9541,-134],[-9540,-106],[-9540,-112],[-9540,-119],[-9540,-128],[-9539,-103],[-9539,-114],[-9539,-122],[-9539,-132],[-9538,-105],[-9538,-111],[-9538,-118],[-9538,-126],[-9537,-113],[-9537,-121],[-9537,-130],[-9536,-104],[-9536,-110],[-9536,-116],[-9536,-124],[-9535,-112],[-9535,-119],[-9535,-128],[-9534,-109],[-9534,-115],[-9534,-123],[-9533,-111],[-9533,-118],[-9533,-127],[-9532,-108],[-9532,-114],[-9532,-121],[-9531,-111],[-9531,-117],[-9531,-125],[-9530,-107],[-9530,-113],[-9530,-120],[-9529,-110],[-9529,-116],[-9528,-106],[-9528,-112],[-9528,-119],[-9527,-111],[-9527,-117],[-9526,-108],[-9526,-114],[-9525,-106],[-9525,-112],[-9524,-109],[-9523,-108],[-9523,-115],[-9522,-105],[-9522,-111]
];

const rows = [
  {title: rowTitles[0], mse: pairMse,
   sets: [pairN100, pairN200, pairN500.concat(pairN500Core), pairN1000.concat(pairN1000Core)]},
  {title: rowTitles[1], mse: meanFieldMse,
   sets: [meanFieldN100, meanFieldN200, meanFieldN500.concat(meanFieldN500Core), meanFieldN1000.concat(meanFieldN1000Core)]}
];

// ---- layout ----
const W = 778, H = 536;
const colLeft = [37.5, 222.3, 426, 611.7];
const rowTop = [21.7, 292.6];
const pw = 165, ph = 206.8;
const fs = 11.3;
const minus = v => String(v).replace("-", "\u2212");

const svg = d3.select("#chart").append("svg")
  .attr("width", W).attr("height", H);

const x = d3.scaleLinear().domain([-9614, -9506]).range([0, pw]);
const y = d3.scaleLinear().domain([-225.5, -54.4]).range([ph, 0]);

svg.append("defs").append("clipPath").attr("id", "clip")
  .append("rect").attr("width", pw).attr("height", ph);

rows.forEach((row, r) => {
  // y axis title on the left
  svg.append("text")
    .attr("transform", `translate(8.5,${rowTop[r] + ph / 2}) rotate(-90)`)
    .attr("text-anchor", "middle")
    .style("font-size", fs + "px")
    .text(row.title);

  row.sets.forEach((pts, c) => {
    const g = svg.append("g")
      .attr("transform", `translate(${colLeft[c]},${rowTop[r]})`);

    if (r === 0) {
      g.append("text")
        .attr("x", pw / 2).attr("y", -8.5)
        .attr("text-anchor", "middle")
        .style("font-size", "14.4px")
        .style("font-weight", "bold")
        .style("font-style", "italic")
        .style("white-space", "pre")
        .text("N =  " + sampleSizes[c]);
    }

    // MSE note
    g.append("text")
      .attr("x", x(-9538.7)).attr("y", y(-205))
      .attr("dy", "0.36em")
      .attr("text-anchor", "middle")
      .style("font-size", fs + "px")
      .style("white-space", "pre")
      .text("MSE =  " + row.mse[c]);

    const plot = g.append("g").attr("clip-path", "url(#clip)");

    plot.selectAll("circle")
      .data(pts)
      .enter()
      .append("circle")
      .attr("cx", d => x(d[0]))
      .attr("cy", d => y(d[1]))
      .attr("r", 2.1)
      .attr("fill", "none")
      .attr("stroke", "#000")
      .attr("stroke-width", 1.15);

    // reference line y = x + offset
    const ends = x.domain();
    plot.append("path")
      .datum(ends)
      .attr("d", d3.line().x(d => x(d)).y(d => y(d + refOffset)))
      .attr("stroke", "#e3211c")
      .attr("stroke-width", 2.3)
      .attr("fill", "none");

    g.append("rect")
      .attr("width", pw).attr("height", ph)
      .attr("fill", "none").attr("stroke", "#000").attr("stroke-width", 1);

    // x axis
    const xAxis = d3.axisBottom(x)
      .tickValues(xTicks)
      .tickSize(5)
      .tickPadding(2.5)
      .tickFormat(d => xTickLabels.includes(d) ? minus(d) : "");
    const ax = g.append("g")
      .attr("transform", `translate(0,${ph})`)
      .call(xAxis);
    ax.select(".domain").remove();
    ax.selectAll("text").style("font-size", fs + "px")
      .style("font-family", '"Liberation Sans", Arial, sans-serif');
    ax.selectAll("line").attr("stroke", "#000");

    g.append("text")
      .attr("x", pw / 2).attr("y", ph + 34)
      .attr("text-anchor", "middle")
      .style("font-size", fs + "px")
      .text("Log likelihood");

    // y axis only on the first column
    if (c === 0) {
      const yt = g.append("g");
      yt.selectAll("line").data(yTicks).enter().append("line")
        .attr("x1", -5).attr("x2", 0)
        .attr("y1", d => y(d)).attr("y2", d => y(d))
        .attr("stroke", "#000");
      yt.selectAll("text").data(yTicks).enter().append("text")
        .attr("transform", d => `translate(-10.5,${y(d)}) rotate(-90)`)
        .attr("text-anchor", "middle")
        .style("font-size", fs + "px")
        .text(d => minus(d));
    }
  });
});
</script>
</body>
</html>
